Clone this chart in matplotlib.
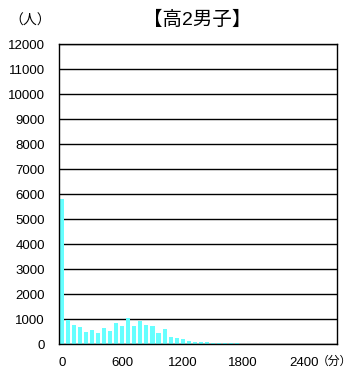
import matplotlib
matplotlib.use("Agg")
import matplotlib.pyplot as plt
import numpy as np

plt.rcParams['font.family'] = ['Liberation Sans', 'Noto Sans CJK JP', 'DejaVu Sans']

# minutes per week, 60-minute bins; first bar is 0 minutes
bin_minutes = list(range(0, 46 * 60, 60))
counts = [5810, 975, 775, 705, 505, 575, 440, 665, 545, 840,
          735, 1050, 745, 945, 775, 735, 466, 615, 305, 245,
          225, 150, 100, 85, 75, 65, 55, 50, 45, 40,
          30, 25, 20, 20, 15, 10, 10, 5, 5, 5,
          5, 5, 3, 3, 3, 3]
x_labels = ['0', '600', '1200', '1800', '2400']
title = '【高2男子】'

fig = plt.figure(figsize=(3.54, 3.70), dpi=100)
ax = fig.add_axes([0.1658, 0.0695, 0.7862, 0.8115])

pos = np.arange(len(counts))
ax.bar(pos, counts, width=0.68, color='#66FFFF', zorder=3)

ax.set_xlim(-0.5, len(counts) - 0.5)
ax.set_ylim(0, 12000)
ax.set_yticks(range(0, 12001, 1000))
ax.set_yticklabels([str(v) for v in range(0, 12001, 1000)], fontsize=9.5)
ax.set_xticks([bin_minutes.index(int(l)) for l in x_labels])
ax.set_xticklabels(x_labels, fontsize=9.5)
ax.tick_params(axis='both', length=0)
ax.tick_params(axis='y', pad=10)
ax.tick_params(axis='x', pad=9)
ax.yaxis.grid(True, color='black', linewidth=1, zorder=1)
ax.set_axisbelow(True)
for s in ax.spines.values():
    s.set_color('black')
    s.set_linewidth(1)
    s.set_zorder(4)

fig.text(0.085, 0.945, '（人）', fontsize=10, ha='center', va='center')
fig.text(0.557, 0.945, title, fontsize=14, ha='center', va='center')
fig.text(0.896, 0.022, '（分）', fontsize=8.5, ha='left', va='center')

fig.savefig('out.png', dpi=100)
